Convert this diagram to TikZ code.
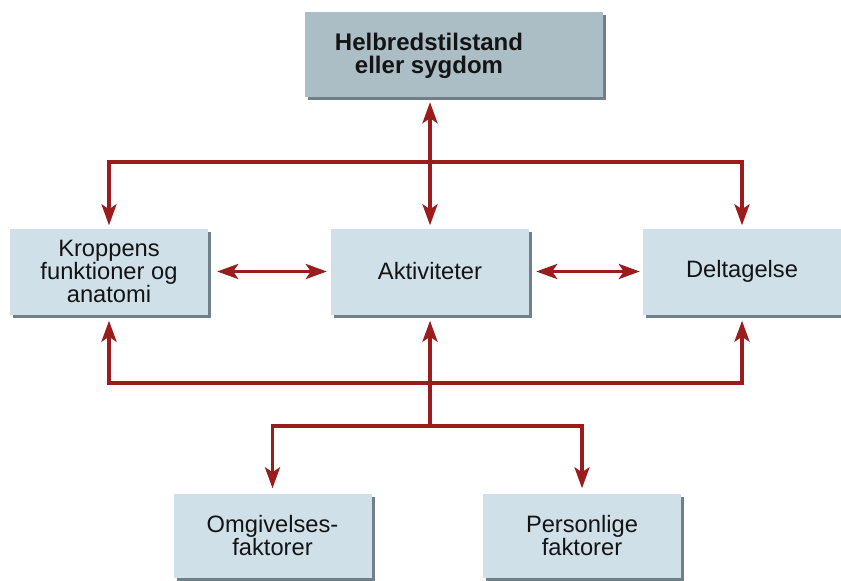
\documentclass[tikz,border=0pt]{standalone}
\usepackage{fontspec}
\setmainfont{Liberation Sans}
\usetikzlibrary{arrows.meta,shadows}
\definecolor{arrowred}{HTML}{9B1C1C}
\definecolor{boxfill}{HTML}{CFE0E8}
\definecolor{topfill}{HTML}{ABBDC5}
\definecolor{shadowgray}{HTML}{6F8088}
\definecolor{textdark}{HTML}{141414}
\begin{document}
\begin{tikzpicture}[x=1pt,y=-1pt,
  box/.style={draw=none, fill=boxfill, minimum width=198pt, minimum height=86pt,
    inner sep=0pt, align=center, font=\fontsize{23.7}{23}\selectfont, text=textdark,
    drop shadow={shadow xshift=3pt, shadow yshift=-3pt, fill=shadowgray, opacity=1}},
  conn/.style={draw=arrowred, line width=3.6pt},
  tipend/.style={-{Stealth[length=21pt,width=15pt,inset=5pt]}},
  tipboth/.style={{Stealth[length=21pt,width=15pt,inset=5pt]}-{Stealth[length=21pt,width=15pt,inset=5pt]}}
]
\useasboundingbox[fill=white] (0,0) rectangle (841,581);

\node[box, fill=topfill, minimum width=298pt, minimum height=85pt] (top) at (454,54.5) {};
\node[align=center, font=\fontsize{24}{23.5}\bfseries\selectfont, text=textdark] (toptext) at (429,56) {Helbredstilstand\\eller sygdom};

\node[box] (krop) at (109,271.5) {Kroppens\\funktioner og\\anatomi};
\node[box] (akt) at (430,271.5) {Aktiviteter};
\node[box] (delt) at (742,271.5) {Deltagelse};
\node[box, minimum height=84pt] (omg) at (272.5,535.5) {Omgivelses-\\faktorer};
\node[box, minimum height=84pt] (pers) at (582,535.5) {Personlige\\faktorer};

\coordinate (j1) at (430,162);
\coordinate (j2) at (430,383);
\coordinate (j3) at (430,426);

% top connections
\draw[conn, tipboth, shorten <=5pt, shorten >=3pt] (top.south -| akt.north) -- (akt.north);
\draw[conn, tipend, shorten >=3pt] (j1) -| (krop.north);
\draw[conn, tipend, shorten >=3pt] (j1) -| (delt.north);

% horizontal double arrows
\draw[conn, tipboth, shorten <=9pt, shorten >=4pt] (krop.east) -- (akt.west);
\draw[conn, tipboth, shorten <=7pt, shorten >=3pt] (akt.east) -- (delt.west);

% bottom connections
\draw[conn, tipend, shorten >=6pt] (j2) -| (krop.south);
\draw[conn, tipend, shorten >=6pt] (j2) -| (delt.south);
\draw[conn, tipend, shorten >=6pt] (j3) -- (akt.south);
\draw[conn, tipend, shorten >=5pt] (j3) -| (omg.north);
\draw[conn, tipend, shorten >=5pt] (j3) -| (pers.north);
\end{tikzpicture}
\end{document}
